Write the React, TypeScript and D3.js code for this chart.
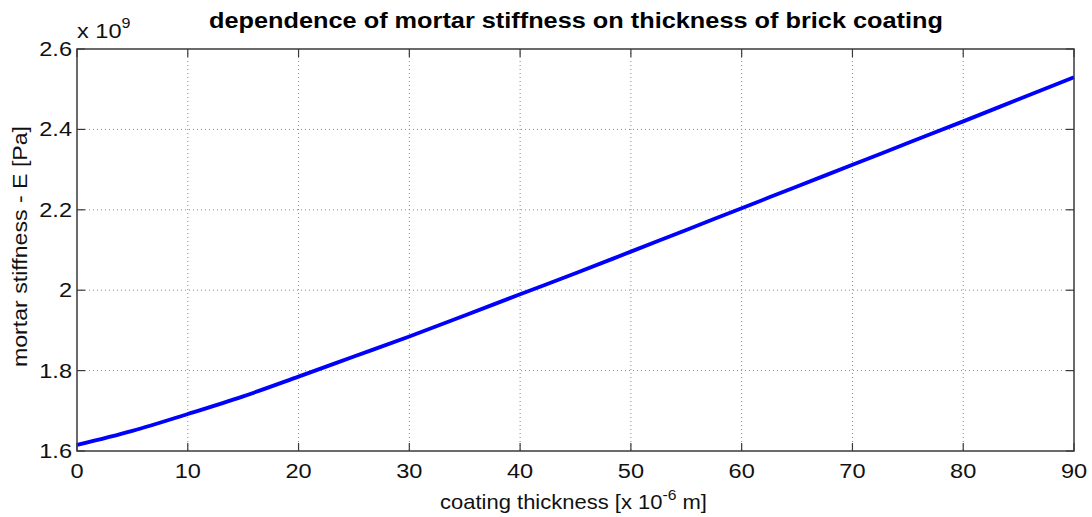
import React from "react";
import * as d3 from "d3";

const thickness = [0, 5, 10, 15, 20, 25, 30, 35, 40, 45, 50, 55, 60, 65, 70, 75, 80, 85, 90];
const stiffness = [1.615, 1.65, 1.692, 1.736, 1.785, 1.835, 1.885, 1.937, 1.99, 2.042, 2.096, 2.15, 2.204, 2.258, 2.312, 2.366, 2.42, 2.475, 2.53];
const xTicks = [0, 10, 20, 30, 40, 50, 60, 70, 80, 90];
const yTicks = [1.6, 1.8, 2.0, 2.2, 2.4, 2.6];
const yTickLabels = ["1.6", "1.8", "2", "2.2", "2.4", "2.6"];

const W = 1092, H = 517;
const L = 77, R = 1074, T = 49, B = 451;
const font = "Liberation Sans, Arial, Helvetica, sans-serif";
const SX = 1.15;

export default function App() {
  const x = d3.scaleLinear().domain([0, 90]).range([L, R]);
  const y = d3.scaleLinear().domain([1.6, 2.6]).range([B, T]);
  const line = d3.line<number>().x((_, i) => x(thickness[i])).y((d) => y(d)).curve(d3.curveMonotoneX);
  const axisColor = "#3a3a3a";
  const gridColor = "#8a8a8a";
  const tl = 8;
  return (
    <svg width={W} height={H} style={{ position: "absolute", left: 0, top: 0, background: "#fff" }}>
      <rect x={0} y={0} width={W} height={H} fill="#fff" />
      {xTicks.slice(1, -1).map((t) => (
        <line key={"gx" + t} x1={x(t)} x2={x(t)} y1={T} y2={B} stroke={gridColor} strokeWidth={1} strokeDasharray="1,3" />
      ))}
      {yTicks.slice(1, -1).map((t) => (
        <line key={"gy" + t} x1={L} x2={R} y1={y(t)} y2={y(t)} stroke={gridColor} strokeWidth={1} strokeDasharray="1,3" />
      ))}
      <path d={line(stiffness) || ""} fill="none" stroke="#0000ff" strokeWidth={3.8} />
      <rect x={L} y={T} width={R - L} height={B - T} fill="none" stroke={axisColor} strokeWidth={1.5} />
      {xTicks.map((t) => (
        <g key={"tx" + t}>
          <line x1={x(t)} x2={x(t)} y1={B} y2={B - tl} stroke={axisColor} strokeWidth={1.2} />
          <line x1={x(t)} x2={x(t)} y1={T} y2={T + tl} stroke={axisColor} strokeWidth={1.2} />
          <text transform={`translate(${x(t)},478) scale(${SX},1)`} textAnchor="middle" fontFamily={font} fontSize={20.5} fill="#111">{t}</text>
        </g>
      ))}
      {yTicks.map((t, i) => (
        <g key={"ty" + t}>
          <line x1={L} x2={L + tl} y1={y(t)} y2={y(t)} stroke={axisColor} strokeWidth={1.2} />
          <line x1={R} x2={R - tl} y1={y(t)} y2={y(t)} stroke={axisColor} strokeWidth={1.2} />
          <text transform={`translate(72,${y(t) + 7}) scale(${SX},1)`} textAnchor="end" fontFamily={font} fontSize={20.5} fill="#111">{yTickLabels[i]}</text>
        </g>
      ))}
      <text transform={`translate(77,38) scale(${SX},1)`} fontFamily={font} fontSize={20.5} fill="#111">x 10<tspan dy={-10} fontSize={14}>9</tspan></text>
      <text x={576} y={28} textAnchor="middle" textLength={734} lengthAdjust="spacingAndGlyphs" fontFamily={font} fontSize={21.5} fontWeight="bold" fill="#000">dependence of mortar stiffness on thickness of brick coating</text>
      <text x={573.5} y={509} textAnchor="middle" textLength={267} lengthAdjust="spacingAndGlyphs" fontFamily={font} fontSize={21} fill="#111">coating thickness [x 10<tspan dy={-9} fontSize={15}>-6</tspan><tspan dy={9}> m]</tspan></text>
      <text transform={`translate(27, 246.5) rotate(-90)`} textAnchor="middle" textLength={241} lengthAdjust="spacingAndGlyphs" fontFamily={font} fontSize={21} fill="#111">mortar stiffness - E [Pa]</text>
    </svg>
  );
}
